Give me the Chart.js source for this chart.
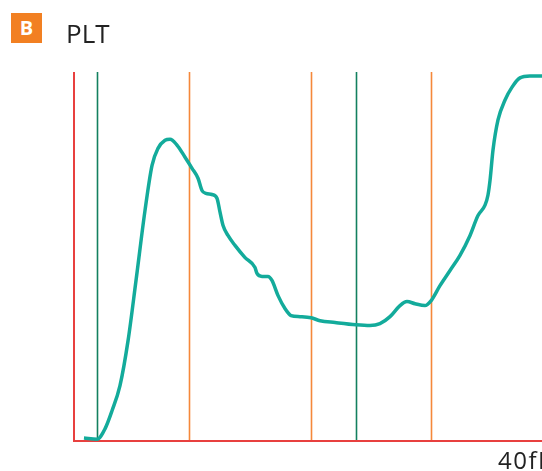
<!DOCTYPE html>
<html>
<head>
<meta charset="utf-8">
<script src="https://cdn.jsdelivr.net/npm/chart.js@4.4.0/dist/chart.umd.min.js"></script>
<style>
  html, body { margin: 0; padding: 0; background: #fff; overflow: hidden; }
  #wrap { position: relative; width: 542px; height: 471px; overflow: hidden; }
  #badge { position: absolute; left: 11px; top: 13px; width: 31px; height: 30px; background: #f28022;
           color: #fff; font: bold 20px "Open Sans", sans-serif; line-height: 30px; text-align: center; }
  #title { position: absolute; left: 66px; top: 15px; font: 26px "Open Sans", sans-serif; color: #222; }
  #unit { position: absolute; left: 498px; top: 443px; font: 24px "Open Sans", sans-serif; color: #222;
          white-space: nowrap; letter-spacing: 1.5px; }
  canvas { position: absolute; left: 0; top: 0; }
</style>
</head>
<body>
<div id="wrap">
  <canvas id="grafico" width="542" height="471"></canvas>
  <div id="badge">B</div>
  <div id="title">PLT</div>
  <div id="unit">40fL</div>
</div>
<script>
const volumen = [0.85, 1.97, 2.65, 3.25, 3.93, 4.62, 5.3, 6.07, 6.67, 7.18, 7.78, 8.21, 8.8, 9.49, 10.09, 10.6,
  10.94, 11.28, 11.79, 12.22, 12.48, 12.74, 13.16, 13.76, 14.62, 15.47, 15.64, 16.07, 16.58, 16.92, 17.44,
  18.03, 18.55, 19.32, 20.26, 21.03, 22.31, 24.1, 25.3, 26.15, 27.01, 27.86, 28.46, 29.15, 30.0, 30.51,
  31.28, 32.14, 32.99, 33.85, 34.53, 35.13, 35.38, 35.56, 35.81, 36.24, 36.84, 37.44, 38.12, 38.97, 40];
const frecuencia = [0.8, 0.5, 3.3, 8.2, 15.0, 27.2, 43.5, 62.5, 74.7, 79.3, 81.5, 81.8, 80.2, 76.9, 73.9, 71.2,
  67.9, 67.1, 66.8, 65.8, 62.0, 58.4, 55.7, 53.0, 49.7, 47.0, 45.4, 44.6, 44.6, 43.5, 39.4,
  35.9, 34.0, 33.7, 33.4, 32.6, 32.1, 31.5, 31.3, 31.8, 33.7, 36.7, 37.8, 37.2, 36.7, 38.0,
  42.1, 46.2, 50.3, 55.7, 61.1, 63.9, 66.6, 70.7, 78.8, 87.0, 92.4, 95.9, 98.4, 98.9, 98.9];
// líneas de discriminación
const lineasVerdes = [1.97, 24.1];
const lineasNaranjas = [9.83, 20.26, 30.51];

const puntos = volumen.map((v, i) => ({ x: v, y: frecuencia[i] }));

const lineasPlugin = {
  id: "lineas",
  beforeDatasetsDraw(chart) {
    const ctx = chart.ctx;
    const area = chart.chartArea;
    const xs = chart.scales.x;
    ctx.save();
    ctx.lineWidth = 1.6;
    const dibujar = (vals, color) => {
      ctx.strokeStyle = color;
      vals.forEach(v => {
        const px = Math.round(xs.getPixelForValue(v)) + 0.5;
        ctx.beginPath();
        ctx.moveTo(px, area.top);
        ctx.lineTo(px, area.bottom);
        ctx.stroke();
      });
    };
    dibujar(lineasNaranjas, "#f5883a");
    dibujar(lineasVerdes, "#13805f");
    // ejes rojos
    ctx.strokeStyle = "#e8403f";
    ctx.lineWidth = 2;
    ctx.beginPath();
    ctx.moveTo(area.left, area.top);
    ctx.lineTo(area.left, area.bottom);
    ctx.lineTo(area.right + 5, area.bottom);
    ctx.stroke();
    ctx.restore();
  }
};

new Chart(document.getElementById("grafico").getContext("2d"), {
  type: "scatter",
  data: {
    datasets: [{
      data: puntos,
      showLine: true,
      borderColor: "#13ab9b",
      borderWidth: 3.5,
      pointRadius: 0,
      tension: 0.4,
      cubicInterpolationMode: "monotone",
      fill: false
    }]
  },
  options: {
    responsive: false,
    animation: false,
    layout: { padding: { left: 74, top: 72, right: 0, bottom: 30 } },
    plugins: { legend: { display: false }, tooltip: { enabled: false } },
    scales: {
      x: { type: "linear", min: 0, max: 40, display: false },
      y: { min: 0, max: 100, display: false }
    }
  },
  plugins: [lineasPlugin]
});
</script>
</body>
</html>
